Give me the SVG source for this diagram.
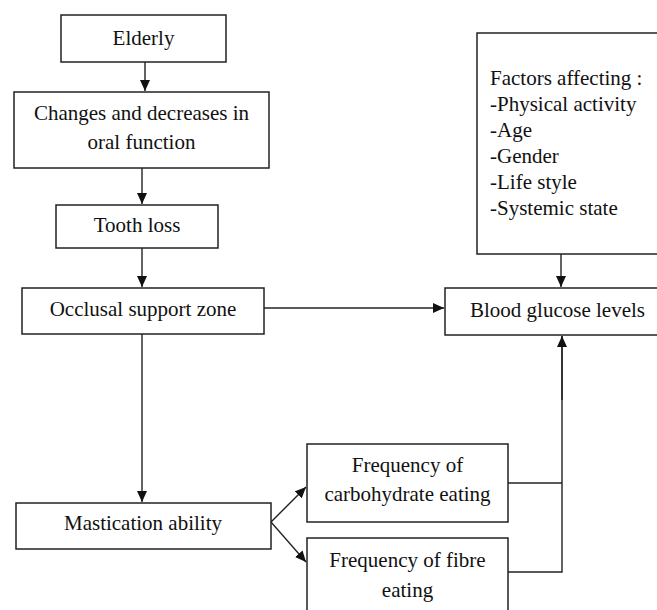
<svg xmlns="http://www.w3.org/2000/svg" width="657" height="610" viewBox="0 0 657 610">
<style>
.box{fill:#fff;stroke:#222;stroke-width:1.5}
.t{font-family:'Liberation Serif','DejaVu Serif','Times New Roman',serif;font-size:21px;fill:#111}
.c{text-anchor:middle}
.ln{fill:none;stroke:#222;stroke-width:1.4}
</style>
<defs>
<marker id="ah" markerUnits="userSpaceOnUse" markerWidth="12" markerHeight="10" refX="11" refY="5" orient="auto">
<path d="M0,0 L11,5 L0,10 Z" fill="#111"/>
</marker>
</defs>
<rect width="657" height="610" fill="#fff"/>
<g id="connectors">
<line class="ln" x1="145" y1="62" x2="145" y2="91" marker-end="url(#ah)"/>
<line class="ln" x1="142" y1="168" x2="142" y2="204" marker-end="url(#ah)"/>
<line class="ln" x1="142" y1="248" x2="142" y2="287" marker-end="url(#ah)"/>
<line class="ln" x1="264" y1="308" x2="444" y2="308" marker-end="url(#ah)"/>
<line class="ln" x1="561" y1="254" x2="561" y2="287" marker-end="url(#ah)"/>
<line class="ln" x1="142" y1="334" x2="142" y2="502" marker-end="url(#ah)"/>
<line class="ln" x1="271" y1="522" x2="306" y2="487" marker-end="url(#ah)"/>
<line class="ln" x1="271" y1="522" x2="306" y2="562" marker-end="url(#ah)"/>
<polyline class="ln" points="508,483 562,483"/>
<polyline class="ln" points="508,572 562,572 562,336"/>
<line class="ln" x1="562" y1="400" x2="562" y2="336" marker-end="url(#ah)"/>
</g>
<g id="elderly">
<rect class="box" x="61" y="15" width="165" height="47"/>
<text class="t c" x="143.5" y="45">Elderly</text>
</g>
<g id="changes">
<rect class="box" x="14" y="92" width="255" height="76"/>
<text class="t c" x="141.5" y="120">Changes and decreases in</text>
<text class="t c" x="141.5" y="149">oral function</text>
</g>
<g id="tooth">
<rect class="box" x="56" y="205" width="162" height="43"/>
<text class="t c" x="137" y="232">Tooth loss</text>
</g>
<g id="occlusal">
<rect class="box" x="22" y="288" width="242" height="46"/>
<text class="t c" x="143" y="316">Occlusal support zone</text>
</g>
<g id="factors">
<rect class="box" x="477" y="33" width="190" height="221"/>
<text class="t" x="490" y="85">Factors affecting :</text>
<text class="t" x="490" y="111">-Physical activity</text>
<text class="t" x="490" y="137">-Age</text>
<text class="t" x="490" y="163">-Gender</text>
<text class="t" x="490" y="189">-Life style</text>
<text class="t" x="490" y="215">-Systemic state</text>
</g>
<g id="glucose">
<rect class="box" x="445" y="288" width="222" height="47"/>
<text class="t" x="470" y="317">Blood glucose levels</text>
</g>
<g id="mastication">
<rect class="box" x="16" y="503" width="255" height="46"/>
<text class="t c" x="143" y="530">Mastication ability</text>
</g>
<g id="carbohydrate">
<rect class="box" x="307" y="444" width="201" height="78"/>
<text class="t c" x="407.5" y="472">Frequency of</text>
<text class="t c" x="407.5" y="501">carbohydrate eating</text>
</g>
<g id="fibre">
<rect class="box" x="307" y="538" width="201" height="80"/>
<text class="t c" x="407.5" y="567">Frequency of fibre</text>
<text class="t c" x="407.5" y="597">eating</text>
</g>
</svg>
